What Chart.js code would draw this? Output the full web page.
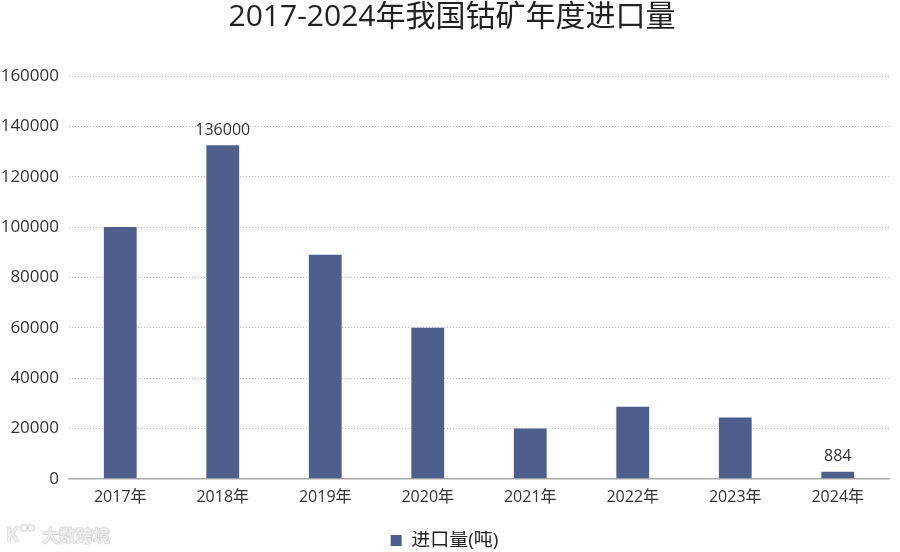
<!DOCTYPE html>
<html><head><meta charset="utf-8">
<script src="https://cdn.jsdelivr.net/npm/chart.js@4/dist/chart.umd.min.js"></script>
<style>html,body{margin:0;padding:0;background:#fff}#wrap{width:900px;height:552px;position:relative}</style>
</head><body><div id="wrap"><canvas id="c" width="900" height="552"></canvas></div>
<script>
const categories = ['2017年','2018年','2019年','2020年','2021年','2022年','2023年','2024年'];
const importValues = [100000, 132500, 89000, 60000, 20000, 28600, 24300, 2800];
const valueLabels = ['', '136000', '', '', '', '', '', '884'];
const seriesName = '进口量(吨)';
const titleText = '2017-2024年我国钴矿年度进口量';
const FONT = "'Open Sans','Noto Sans CJK SC',sans-serif";

const labelPlugin = {
  id: 'valueLabels',
  afterDatasetsDraw(chart) {
    const ctx = chart.ctx;
    const meta = chart.getDatasetMeta(0);
    ctx.save();
    ctx.font = "16px " + FONT;
    ctx.fillStyle = '#333';
    ctx.textAlign = 'center';
    ctx.textBaseline = 'bottom';
    meta.data.forEach((bar, i) => {
      if (valueLabels[i]) ctx.fillText(valueLabels[i], bar.x, bar.y - 7);
    });
    ctx.restore();
  }
};
const titlePlugin = {
  id: 'topTitle',
  afterDraw(chart) {
    const ctx = chart.ctx;
    ctx.save();
    ctx.font = "30px " + FONT;
    ctx.fillStyle = '#222';
    ctx.textAlign = 'center';
    ctx.textBaseline = 'middle';
    ctx.fillText(titleText, 452, 17);
    ctx.restore();
  }
};
const watermark = {
  id: 'wm',
  afterDraw(chart) {
    const ctx = chart.ctx;
    ctx.save();
    ctx.fillStyle = 'rgba(238,238,238,0.95)';
    ctx.strokeStyle = 'rgba(170,170,170,0.55)';
    ctx.lineWidth = 1.1;
    ctx.textBaseline = 'middle';
    ctx.font = "bold 19px " + FONT;
    ctx.strokeText('K', 6, 536);
    ctx.fillText('K', 6, 536);
    [[24, 528], [31, 528]].forEach(([x, y]) => {
      ctx.beginPath(); ctx.arc(x, y, 3.2, 0, Math.PI * 2); ctx.stroke();
    });
    ctx.font = "bold 17px " + FONT;
    ctx.strokeText('大数跨境', 42, 537);
    ctx.fillText('大数跨境', 42, 537);
    ctx.restore();
  }
};

new Chart(document.getElementById('c'), {
  type: 'bar',
  data: {
    labels: categories,
    datasets: [{
      label: seriesName,
      data: importValues,
      backgroundColor: '#4e5f8e',
      borderWidth: 0,
      barPercentage: 0.64,
      categoryPercentage: 0.5
    }]
  },
  plugins: [labelPlugin, titlePlugin, watermark],
  options: {
    responsive: false,
    animation: false,
    devicePixelRatio: 1,
    layout: { padding: { left: 0, right: 11, top: 76, bottom: -8 } },
    plugins: {
      title: { display: false },
      legend: {
        position: 'bottom',
        labels: {
          color: '#222', font: { family: FONT, size: 19 },
          boxWidth: 11, boxHeight: 11, padding: 0
        }
      },
      tooltip: { enabled: false }
    },
    scales: {
      x: {
        grid: { display: false, drawTicks: false },
        border: { display: true, color: '#aaa', width: 1.5 },
        ticks: { color: '#333', font: { family: FONT, size: 16 }, padding: 9 },
        afterFit: s => { s.height += 15; }
      },
      y: {
        min: 0, max: 160000,
        ticks: { stepSize: 20000, color: '#333', font: { family: FONT, size: 17 }, padding: 10,
                 callback: v => String(v) },
        grid: { color: '#bbb', drawTicks: false, lineWidth: 1 },
        border: { display: false, dash: [1, 2] },
        afterFit: s => { s.width = 69; }
      }
    }
  }
});
</script></body></html>
